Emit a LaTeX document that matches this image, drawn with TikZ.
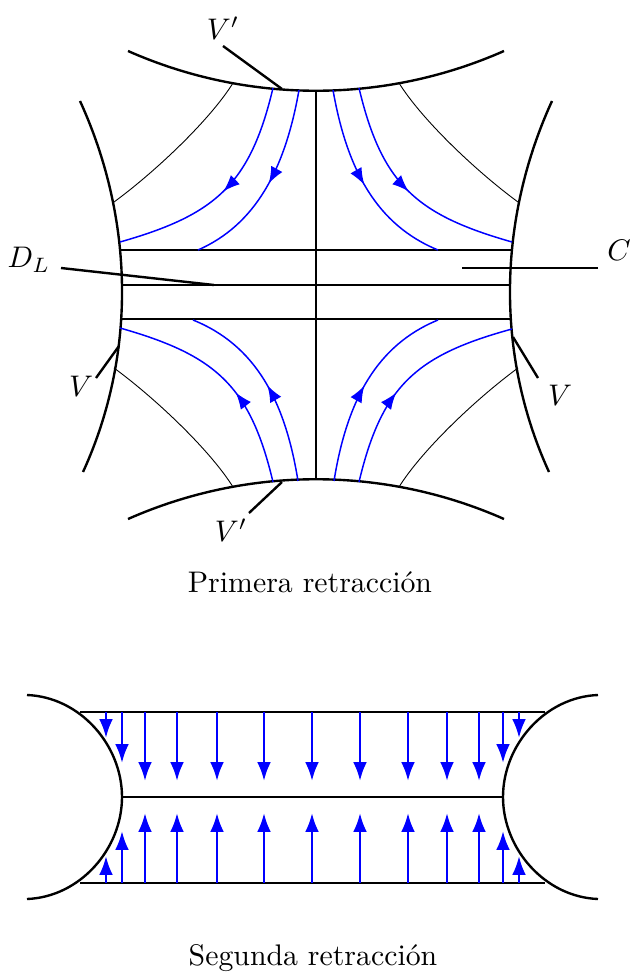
\documentclass[tikz,border=0pt]{standalone}
\usepackage{amsmath}
\usetikzlibrary{arrows.meta,decorations.markings}
\tikzset{
  wall/.style={draw, line width=0.8pt},
  fine/.style={draw, line width=0.3pt},
  flow/.style={draw=blue, line width=0.5pt, postaction={decorate},
    decoration={markings, mark=at position #1 with {\arrow[blue]{Latex[length=5.6pt,width=4.3pt]}}}},
  flow/.default=0.5,
  drop/.style={blue, line width=0.9pt, -{Latex[length=6.3pt,width=4.6pt]}},
}

\begin{document}
\begin{tikzpicture}[x=0.0118cm, y=-0.0118cm]
    \useasboundingbox (0,0) rectangle (630,972);

    % primera retraccion
    \draw[wall] (128,51) .. controls (248,104) and (384,104) .. (504,51);
    \draw[wall] (128,519) .. controls (248,466) and (384,466) .. (504,519);
    \draw[wall] (80,101) .. controls (134,219) and (137,354) .. (83,472);
    \draw[wall] (552,101) .. controls (498,219) and (495,354) .. (549,472);
    \draw[wall] (121,250) -- (511,250);
    \draw[wall] (122,285) -- (510,285);
    \draw[wall] (121,319) -- (511,319);
    \draw[wall] (316,91) -- (316,480);

    \draw[fine] (233,83) .. controls (210,120) and (155,172) .. (114,202);
    \draw[fine] (399,83) .. controls (422,120) and (477,172) .. (518,202);
    \draw[fine] (233,487) .. controls (210,450) and (155,398) .. (114,368);
    \draw[fine] (399,487) .. controls (422,450) and (477,398) .. (518,368);

    \path[flow] (273,88) .. controls (250,185) and (215,215) .. (120,242);
    \path[flow] (299,90) .. controls (285,170) and (255,225) .. (198,250);
    \path[flow] (333,90) .. controls (347,170) and (377,225) .. (438,250);
    \path[flow] (359,88) .. controls (382,185) and (417,215) .. (512,242);
    \path[flow=0.42] (273,482) .. controls (250,385) and (215,355) .. (120,328);
    \path[flow] (298,481) .. controls (285,400) and (255,345) .. (193,320);
    \path[flow] (334,481) .. controls (347,400) and (377,345) .. (438,320);
    \path[flow=0.42] (359,482) .. controls (382,385) and (417,355) .. (512,329);

    % etiquetas
    \node (vtop) at (223,28) {$V'$};
    \node (dl) at (29,260) {$D_L$};
    \node (c) at (619,250) {$C$};
    \node (vleft) at (81,386) {$V$};
    \node (vright) at (560,395) {$V$};
    \node (vbot) at (231,530) {$V'$};
    \coordinate (vtopa) at (223,46);   \coordinate (vtopb) at (282,89);
    \coordinate (dla) at (61,268);     \coordinate (dlb) at (214,285);
    \coordinate (ca) at (598,268);     \coordinate (cb) at (462,268);
    \coordinate (vlefta) at (96,378);  \coordinate (vleftb) at (119,346);
    \coordinate (vrighta) at (538,378); \coordinate (vrightb) at (513,337);
    \coordinate (vbota) at (249,513);  \coordinate (vbotb) at (282,482);
    \draw[wall] (vtopa) -- (vtopb);
    \draw[wall] (dla) -- (dlb);
    \draw[wall] (ca) -- (cb);
    \draw[wall] (vlefta) -- (vleftb);
    \draw[wall] (vrighta) -- (vrightb);
    \draw[wall] (vbota) -- (vbotb);

    \node[anchor=base] (primera) at (310,592) {Primera retracción};

    % segunda retraccion
    \draw[wall] (27,695) .. controls (80,697) and (122,745) .. (122,797)
                         .. controls (122,849) and (80,897) .. (27,899);
    \draw[wall] (598,695) .. controls (545,697) and (503,745) .. (503,797)
                          .. controls (503,849) and (545,897) .. (598,899);
    \draw[wall] (80,712) -- (545,712);
    \draw[wall] (122,797) -- (503,797);
    \draw[wall] (80,883) -- (545,883);
    \foreach \x/\t/\b in {106/738/856, 122/763/831, 145/781/813, 177/781/813,
                          217/781/813, 264/781/813, 312/781/813, 360/781/813,
                          408/781/813, 447/781/813, 479/781/813, 503/763/831,
                          519/738/856}
    {
      \draw[drop] (\x,712) -- (\x,\t);
      \draw[drop] (\x,883) -- (\x,\b);
    }

    \node[anchor=base] (segunda) at (313,965) {Segunda retracción};
\end{tikzpicture}
\end{document}
